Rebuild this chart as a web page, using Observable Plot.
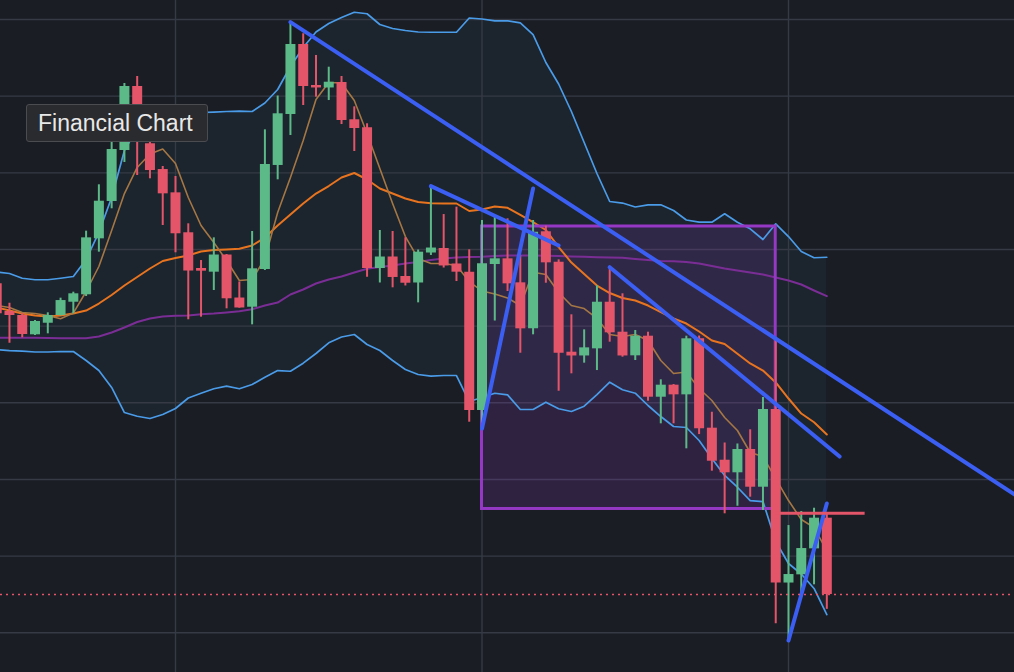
<!DOCTYPE html>
<html><head><meta charset="utf-8">
<script src="https://cdn.jsdelivr.net/npm/d3@7"></script>
<script src="https://cdn.jsdelivr.net/npm/@observablehq/plot@0.6"></script>
<style>
html,body{margin:0;padding:0;background:#1a1d24;}
#wrap{position:relative;width:1014px;height:672px;overflow:hidden;}
#label{position:absolute;left:26px;top:104px;width:182px;height:38px;box-sizing:border-box;
  background:#2a2b2e;border:1px solid #4b4c50;border-radius:3px;color:#e8e8e8;
  font-family:"Liberation Sans",Arial,sans-serif;font-size:23px;line-height:36px;padding-left:11px;white-space:nowrap;}
</style></head>
<body><div id="wrap"><div id="chart"></div><div id="label">Financial Chart</div></div>
<script>
// candle index of first entry (partially visible at left edge)
const firstIndex = -1;
const open = [145.52,141.91,141.39,138.87,140.38,141.39,143.12,144.09,151.39,156.26,162.91,171.26,163.79,160.43,157.39,152.18,147.52,147.04,149.28,143.67,142.47,147.39,160.96,167.61,176.74,171.39,171.07,171.78,166.92,165.87,147.52,149.02,146.48,145.63,149.54,150.13,148.11,147.04,129.00,148.04,148.78,145.65,139.65,152.31,148.34,136.60,136.11,137.04,143.12,139.21,136.13,138.69,130.73,132.30,131.04,138.35,126.69,122.51,120.87,123.91,118.99,129.13,106.49,107.56,110.95,114.95];
const high = [146.21,142.99,141.65,140.74,141.74,143.65,144.43,152.39,158.44,164.22,171.65,172.57,164.22,160.83,159.52,153.35,148.56,151.52,149.35,145.76,152.35,165.61,170.02,179.65,178.14,175.31,173.78,172.57,168.61,166.40,152.48,152.35,151.52,149.93,158.31,154.56,155.52,149.96,153.78,154.43,154.00,149.22,153.78,153.04,148.65,141.48,139.52,145.26,147.69,144.22,139.43,139.21,133.00,132.39,138.69,138.71,128.77,124.76,124.63,126.48,130.69,138.48,113.99,115.82,116.25,115.52];
const low = [141.26,137.77,138.48,138.78,139.00,141.32,141.61,143.87,149.65,155.31,161.35,159.65,159.22,153.13,149.57,140.83,141.17,144.65,142.26,142.34,140.17,147.26,159.09,164.87,168.78,169.87,169.43,166.30,162.78,146.38,145.63,145.00,145.24,143.04,149.22,147.58,145.82,127.47,127.04,140.67,144.52,136.47,138.87,145.60,131.51,133.78,135.17,134.21,137.91,135.95,135.52,130.21,127.26,127.26,124.00,125.86,121.08,115.52,116.51,117.69,115.95,101.17,99.21,104.58,106.26,103.06];
const close = [141.61,141.39,138.91,140.61,141.39,143.34,144.22,151.52,156.30,163.04,171.26,165.78,160.30,157.26,152.05,147.19,147.17,149.28,143.57,142.37,147.48,161.09,167.70,176.74,171.26,171.07,171.82,166.83,165.78,147.52,149.02,146.35,145.60,149.65,150.19,147.85,147.04,129.00,148.13,148.78,145.52,139.65,152.25,148.26,136.47,136.11,137.17,143.12,139.13,136.11,138.69,130.73,132.30,131.04,138.35,126.61,122.38,120.87,123.91,118.99,129.13,106.49,107.60,110.99,114.95,104.99];

// indicators, one value per candle
const bbUpper = [147.06,146.87,146.25,146.05,146.05,146.25,146.48,148.69,152.22,156.78,162.91,165.78,167.61,167.74,167.74,167.80,167.87,167.93,168.00,168.04,168.00,169.11,170.87,173.87,176.35,178.37,179.48,180.26,180.95,180.75,179.35,178.83,178.57,178.37,178.34,178.34,178.34,180.20,180.07,179.83,179.83,179.57,178.04,174.39,171.59,168.00,163.96,159.91,156.26,156.06,155.54,155.83,155.83,155.09,153.85,153.56,153.56,154.66,153.56,152.70,151.30,153.35,151.69,149.74,148.92,148.99];
const bbLower = [136.95,136.82,136.73,136.63,136.63,136.69,136.69,135.52,134.21,132.00,128.73,128.25,127.95,128.47,129.26,130.63,131.25,131.83,132.17,131.83,132.39,133.34,134.21,134.12,135.17,136.43,137.83,138.58,138.91,137.61,136.82,135.52,134.34,133.69,133.47,133.56,133.56,130.17,130.69,131.25,131.04,129.13,129.13,130.08,129.22,128.87,129.56,131.08,132.69,131.70,131.25,129.65,128.21,126.91,126.78,125.08,122.73,120.52,118.99,117.25,117.12,111.91,109.04,107.67,105.78,102.38];
const maLong = [138.48,138.48,138.48,138.48,138.45,138.43,138.43,138.43,138.65,139.17,139.82,140.54,141.00,141.26,141.35,141.39,141.56,141.65,141.78,141.94,142.20,142.69,143.08,144.13,144.78,145.56,146.08,146.48,147.00,147.48,147.71,147.91,148.17,148.37,148.63,148.82,148.95,149.02,149.05,149.15,149.22,149.22,149.22,149.18,149.14,149.08,149.05,148.99,148.95,148.92,148.76,148.63,148.50,148.47,148.37,148.17,147.85,147.52,147.26,147.00,146.74,146.35,145.95,145.43,144.65,143.91];
const maMid = [142.43,142.04,141.65,141.39,141.26,141.39,141.65,142.04,142.95,144.06,145.30,146.41,147.52,148.50,148.89,149.22,149.74,149.93,150.00,150.09,150.52,151.56,153.13,154.56,156.00,157.30,158.28,159.39,159.98,159.13,157.96,157.30,156.65,156.19,156.04,156.00,156.00,155.02,155.22,155.61,155.44,154.50,153.56,152.54,150.32,148.30,146.80,145.30,144.32,143.67,143.34,142.69,141.84,141.00,140.34,139.30,138.13,137.67,136.39,135.13,134.21,132.65,130.56,128.60,127.47,125.86];
const maShort = [142.69,142.43,141.78,141.65,141.39,140.96,141.71,144.52,147.78,152.48,157.30,160.70,162.46,163.11,161.22,156.78,153.13,150.91,148.56,145.95,146.08,148.82,154.82,159.39,164.22,169.57,171.78,171.72,169.43,165.13,160.56,156.00,151.69,148.82,148.17,148.17,147.91,145.82,144.58,144.19,143.67,142.69,147.04,146.74,144.39,142.69,142.30,141.00,138.91,138.65,138.91,138.13,135.52,133.82,134.02,131.87,130.30,128.08,126.39,123.52,122.99,120.12,117.25,114.78,113.73,110.73];

// drawings (candle index, price)
const trendLines = [
  {x1: 22, y1: 179.65, x2: 80, y2: 116.63},
  {x1: 33, y1: 158.26, x2: 43, y2: 150.52},
  {x1: 47, y1: 147.69, x2: 65, y2: 122.99},
  {x1: 37, y1: 126.65, x2: 41, y2: 157.96},
  {x1: 61, y1: 98.99, x2: 64, y2: 116.86}
];
const boxes = [{x1: 37, x2: 60, y1: 116.15, y2: 153.00}];
const levels = [{x1: 60, x2: 67, y: 115.60}];
const priceTicks = [100, 110, 120, 130, 140, 150, 160, 170, 180];
const timeTicks = [13, 37, 61];
const xDomain = [-0.703, 78.696];
const yDomain = [94.82, 182.48];

const UP = "#5cba89", DOWN = "#e4556a";
const candles = open.map((o, k) => ({
  i: firstIndex + k, open: o, high: high[k], low: low[k], close: close[k],
  upper: bbUpper[k], lower: bbLower[k], long: maLong[k], mid: maMid[k], short: maShort[k]
}));
const lastClose = close[close.length - 1];
const col = d => d.close >= d.open ? UP : DOWN;

const chart = Plot.plot({
  width: 1014, height: 672,
  marginTop: 0, marginRight: 0, marginBottom: 0, marginLeft: 0,
  x: {type: "linear", domain: xDomain, axis: null},
  y: {domain: yDomain, axis: null},
  color: {type: "identity"},
  style: {background: "#1a1d24", overflow: "hidden"},
  marks: [
    Plot.areaY(candles, {x: "i", y1: "lower", y2: "upper", fill: "#1c242d"}),
    Plot.ruleY(priceTicks, {stroke: "#353a45", strokeWidth: 1.4}),
    Plot.ruleX(timeTicks, {stroke: "#353a45", strokeWidth: 1.4}),
    Plot.rect(boxes, {x1: "x1", x2: "x2", y1: "y1", y2: "y2", fill: "#8f3cc0", fillOpacity: 0.18}),
    Plot.lineY(candles, {x: "i", y: "upper", stroke: "#4a9be8", strokeWidth: 1.7}),
    Plot.lineY(candles, {x: "i", y: "lower", stroke: "#4a9be8", strokeWidth: 1.7}),
    Plot.lineY(candles, {x: "i", y: "long", stroke: "#7a2e95", strokeWidth: 2}),
    Plot.lineY(candles, {x: "i", y: "mid", stroke: "#e8741f", strokeWidth: 2}),
    Plot.lineY(candles, {x: "i", y: "short", stroke: "#a57744", strokeWidth: 1.6}),
    Plot.rect(boxes, {x1: "x1", x2: "x2", y1: "y1", y2: "y2", fill: "none", stroke: "#9538c4", strokeWidth: 3}),
    Plot.ruleX(candles, {x: "i", y1: "low", y2: "high", stroke: col, strokeWidth: 2}),
    Plot.ruleX(candles, {x: "i", y1: "open", y2: "close", stroke: col, strokeWidth: 10}),
    Plot.link(trendLines, {x1: "x1", y1: "y1", x2: "x2", y2: "y2", stroke: "#3b5ef3", strokeWidth: 4, strokeLinecap: "round", clip: true}),
    Plot.ruleY(levels, {x1: "x1", x2: "x2", y: "y", stroke: DOWN, strokeWidth: 3}),
    Plot.ruleY([lastClose], {stroke: DOWN, strokeWidth: 1.6, strokeDasharray: "2,4"})
  ]
});
document.getElementById("chart").appendChild(chart);
</script>
</body></html>
